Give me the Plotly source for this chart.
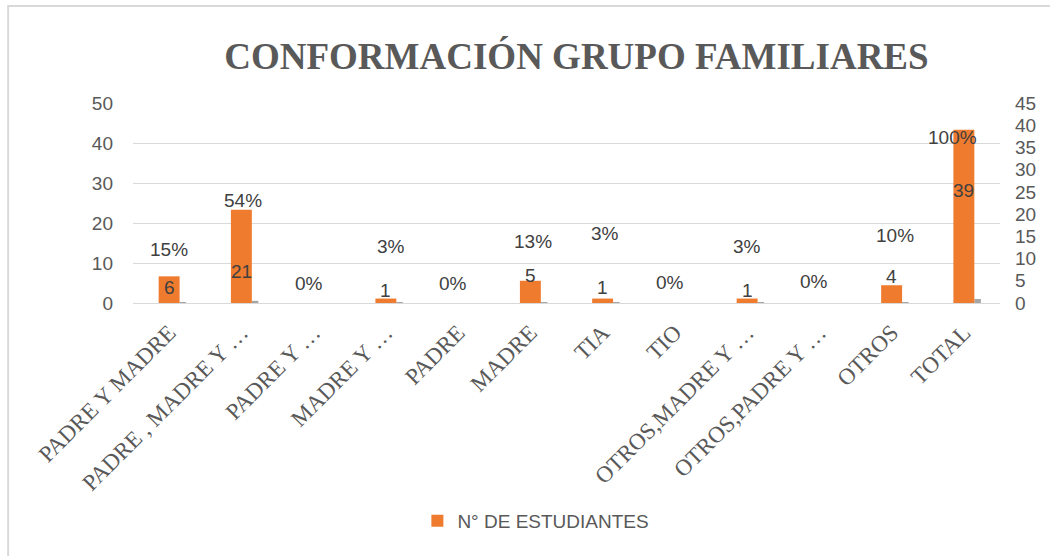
import plotly.graph_objects as go

# ---------------- data ----------------
categories = ["PADRE Y MADRE", "PADRE , MADRE Y …", "PADRE Y …", "MADRE Y …", "PADRE",
              "MADRE", "TIA", "TIO", "OTROS,MADRE Y …", "OTROS,PADRE Y …", "OTROS", "TOTAL"]
n_estudiantes = [6, 21, 0, 1, 0, 5, 1, 0, 1, 0, 4, 39]
porcentaje = [0.15, 0.54, 0.0, 0.03, 0.0, 0.13, 0.03, 0.0, 0.03, 0.0, 0.10, 1.00]
pct_labels = ["15%", "54%", "0%", "3%", "0%", "13%", "3%", "0%", "3%", "0%", "10%", "100%"]

# label placement (layout only, in axis units)
count_label_pos = [3.4, 7.0, None, 2.9, None, 6.3, 3.4, None, 2.9, None, 5.9, 25.4]
pct_label_pos = [13.5, 25.75, 5.0, 14.25, 5.0, 15.5, 17.5, 5.25, 14.25, 5.5, 17.0, 41.5]
pct_label_xshift = [0, 2, -5, 5, -5, 3, 2, -5, 0, -5, 3, -11]

GREY = "#595959"
SANS = "Liberation Sans"
SERIF = "Liberation Serif"

fig = go.Figure()

fig.add_trace(go.Bar(
    x=categories, y=n_estudiantes, name="N° DE ESTUDIANTES",
    marker=dict(color="#EF7B2F", line=dict(width=0)),
    width=0.29, offset=-0.145, yaxis="y2", showlegend=True,
))
fig.add_trace(go.Bar(
    x=categories, y=porcentaje, name="%",
    marker=dict(color="#A5A5A5", line=dict(width=0)),
    width=0.09, offset=0.145, yaxis="y", showlegend=False,
))

annotations = []
for c, v, p in zip(categories, n_estudiantes, count_label_pos):
    if p is None:
        continue
    annotations.append(dict(x=c, y=p, xref="x", yref="y2", text=str(v), showarrow=False,
                            font=dict(family=SANS, size=19, color="#404040"),
                            xanchor="center", yanchor="middle"))
for c, t, p, xs in zip(categories, pct_labels, pct_label_pos, pct_label_xshift):
    annotations.append(dict(x=c, y=p, xref="x", yref="y", text=t, showarrow=False,
                            xshift=xs,
                            font=dict(family=SANS, size=19, color="#404040"),
                            xanchor="center", yanchor="middle"))

fig.update_layout(
    width=1050, height=556,
    paper_bgcolor="white", plot_bgcolor="white",
    margin=dict(l=133, r=50, t=103, b=253, autoexpand=False),
    barmode="overlay",
    title=dict(text="<b>CONFORMACIÓN GRUPO FAMILIARES</b>", x=0.549, xanchor="center",
               y=0.90, yanchor="middle",
               font=dict(family=SERIF, size=37, color=GREY)),
    xaxis=dict(type="category", tickangle=-45, showline=True, linecolor="#D9D9D9", linewidth=1,
               ticks="", tickfont=dict(family=SERIF, size=23, color=GREY), showgrid=False,
               ticklabelstandoff=6, automargin=False),
    yaxis=dict(range=[0, 50], dtick=10, showgrid=True, gridcolor="#D9D9D9", gridwidth=1,
               zeroline=False, showline=False, ticks="", ticklabelstandoff=19,
               tickfont=dict(family=SANS, size=19, color=GREY), automargin=False),
    yaxis2=dict(range=[0, 45], dtick=5, overlaying="y", side="right", showgrid=False,
                zeroline=False, showline=False, ticks="", ticklabelstandoff=14,
                tickfont=dict(family=SANS, size=19, color=GREY), automargin=False),
    legend=dict(orientation="h", x=0.328, xanchor="left", y=-1.09, yanchor="middle",
                font=dict(family=SANS, size=19, color=GREY), bgcolor="rgba(0,0,0,0)"),
    annotations=annotations,
    shapes=[dict(type="rect", xref="paper", yref="paper", x0=-0.144, x1=2, y0=-3, y1=1.485,
                 line=dict(color="#D9D9D9", width=2), fillcolor="rgba(0,0,0,0)", layer="below")],
)

fig.write_html("out.html", config={"displayModeBar": False},
               post_script="document.body.style.margin='0';document.body.style.overflow='hidden';")
